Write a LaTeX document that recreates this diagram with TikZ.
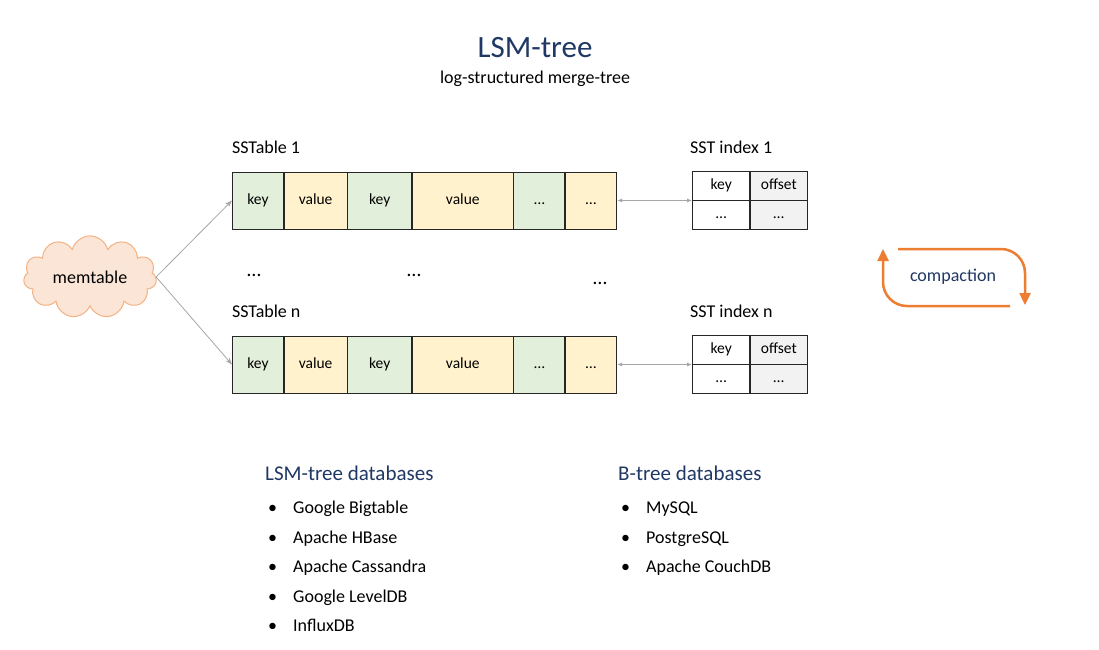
\documentclass[tikz,border=0pt]{standalone}
\usepackage{fontspec}
\setmainfont{Carlito}
\usepackage{xcolor}
\usetikzlibrary{matrix, positioning, shapes.symbols, arrows.meta}
\definecolor{navy}{HTML}{203864}
\definecolor{keygreen}{HTML}{E2EFDA}
\definecolor{valyellow}{HTML}{FFF2CC}
\definecolor{offgray}{HTML}{F2F2F2}
\definecolor{cloudfill}{HTML}{FBE5D6}
\definecolor{cloudline}{HTML}{F4B183}
\definecolor{compline}{HTML}{ED7D31}
\definecolor{linkgray}{HTML}{A6A6A6}
\tikzset{% styles of the picture
	cell/.style={draw=black!85, line width=1pt, inner sep=0pt, minimum height=57pt,
		text height=11pt, text depth=3.5pt, font=\fontsize{15.5}{18}\selectfont},
	keycell/.style={cell, fill=keygreen, minimum width=51pt},
	valcell/.style={cell, fill=valyellow},
	idxcell/.style={draw=black!85, line width=1pt, inner sep=0pt, minimum width=57pt, minimum height=28.5pt,
		text height=11pt, text depth=3.5pt, font=\fontsize{15.5}{18}\selectfont},
	lbl/.style={inner sep=0pt, font=\fontsize{18}{21}\selectfont},
	headline/.style={inner sep=0pt, text=navy, font=\fontsize{21}{25}\selectfont},
	item/.style={inner sep=0pt, text height=13pt, text depth=4pt, font=\fontsize{18}{21}\selectfont},
	gap/.style={inner sep=0pt, font=\fontsize{20}{24}\selectfont},
	feed/.style={-{Stealth[length=7pt,width=5pt]}, draw=linkgray, line width=0.8pt},
	link/.style={{Latex[length=5pt,width=4pt]}-{Latex[length=5pt,width=4pt]}, draw=linkgray, line width=0.8pt},
	comparrow/.style={-{Triangle[length=12pt,width=11pt]}, draw=compline, line width=2.5pt, rounded corners=24pt},
	sstable/.style={matrix of nodes, inner sep=0pt, column sep=-\pgflinewidth,
		nodes={cell},
		column 1/.style={nodes={keycell}},
		column 2/.style={nodes={valcell, minimum width=63pt}},
		column 3/.style={nodes={keycell, minimum width=64pt}},
		column 4/.style={nodes={valcell, minimum width=101pt}},
		column 5/.style={nodes={keycell}},
		column 6/.style={nodes={valcell, minimum width=51pt}}},
	sstindex/.style={matrix of nodes, inner sep=0pt, column sep=-\pgflinewidth, row sep=-\pgflinewidth,
		nodes={idxcell},
		column 2/.style={nodes={fill=offgray}}},
}

\begin{document}
\begin{tikzpicture}[x=1pt, y=-1pt]
	\path[use as bounding box, fill=white] (0,0) rectangle (1099,649);

	% title
	\node[inner sep=0pt, text=navy, font=\fontsize{31}{36}\selectfont] (title) at (535,48) {LSM-tree};
	\node[lbl, below=12pt of title] (subtitle) {log-structured merge-tree};

	% sstables
	\matrix[sstable] (t1) at (424.5,200.5) {%
		key & value & key & value & \dots & \dots \\
	};
	\matrix[sstable] (tn) at (424.5,364.5) {%
		key & value & key & value & \dots & \dots \\
	};
	\node[lbl, above right=17pt and 0pt of t1.north west] (t1label) {SSTable 1};
	\node[lbl, above right=17pt and 0pt of tn.north west] (tnlabel) {SSTable n};

	% indexes
	\matrix[sstindex] (i1) at (750,200.5) {%
		key & offset \\
		\dots & \dots \\
	};
	\matrix[sstindex] (in) at (750,364.5) {%
		key & offset \\
		\dots & \dots \\
	};
	\node[lbl, above right=17pt and -2pt of i1.north west] (i1label) {SST index 1};
	\node[lbl, above right=17pt and -2pt of in.north west] (inlabel) {SST index n};

	\draw[link] (t1.east) -- (i1.west);
	\draw[link] (tn.east) -- (in.west);

	\node[gap] (gapa) at (254,275) {\dots};
	\node[gap] (gapb) at (414,275) {\dots};
	\node[gap] (gapc) at (600,283) {\dots};

	% memtable
	\node[cloud, cloud puffs=11, aspect=1.7, draw=cloudline, fill=cloudfill, line width=1pt,
		minimum width=133pt, minimum height=78pt, inner sep=0pt,
		font=\fontsize{18}{21}\selectfont] (mem) at (90,277) {memtable};
	\draw[feed] (mem.east) -- (t1-1-1.west);
	\draw[feed] (mem.east) -- (tn-1-1.west);

	% compaction
	\node[inner sep=0pt, text=navy, font=\fontsize{18}{21}\selectfont] (comp) at (953,277) {compaction};
	\coordinate (ctop) at (898,249);
	\coordinate (cright) at (1025,305);
	\coordinate (cbottom) at (1010,306);
	\coordinate (cleft) at (883,249);
	\draw[comparrow] (ctop) -| (cright);
	\draw[comparrow] (cbottom) -| (cleft);

	% databases
	\node[headline, anchor=west] (lsmdb) at (265,473) {LSM-tree databases};
	\node[item, anchor=west] (lsm1) at (268,509) {\makebox[25pt][l]{\textbullet}Google Bigtable};
	\node[item, below=12.2pt of lsm1.south west, anchor=north west] (lsm2) {\makebox[25pt][l]{\textbullet}Apache HBase};
	\node[item, below=12.2pt of lsm2.south west, anchor=north west] (lsm3) {\makebox[25pt][l]{\textbullet}Apache Cassandra};
	\node[item, below=12.2pt of lsm3.south west, anchor=north west] (lsm4) {\makebox[25pt][l]{\textbullet}Google LevelDB};
	\node[item, below=12.2pt of lsm4.south west, anchor=north west] (lsm5) {\makebox[25pt][l]{\textbullet}InfluxDB};

	\node[headline, anchor=west] (btdb) at (618,473) {B-tree databases};
	\node[item, anchor=west] (bt1) at (621,509) {\makebox[25pt][l]{\textbullet}MySQL};
	\node[item, below=12.2pt of bt1.south west, anchor=north west] (bt2) {\makebox[25pt][l]{\textbullet}PostgreSQL};
	\node[item, below=12.2pt of bt2.south west, anchor=north west] (bt3) {\makebox[25pt][l]{\textbullet}Apache CouchDB};
\end{tikzpicture}
\end{document}
